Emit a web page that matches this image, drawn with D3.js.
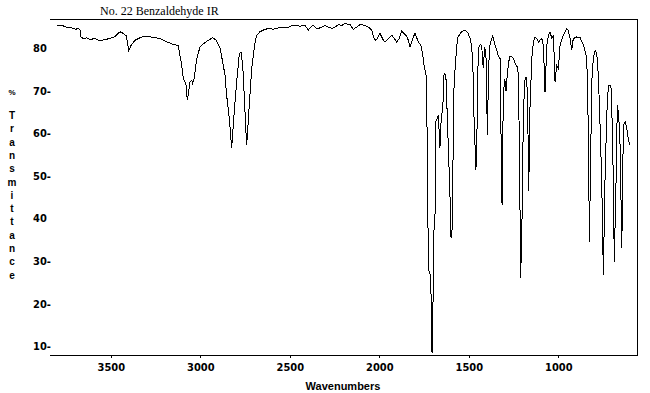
<!DOCTYPE html>
<html><head><meta charset="utf-8">
<script src="https://cdn.jsdelivr.net/npm/d3@7"></script>
<style>
html,body{margin:0;padding:0;background:#fff;}
svg{display:block;}
.num{font-family:"Liberation Sans Narrow","DejaVu Sans Condensed","Liberation Sans",sans-serif;font-weight:bold;font-size:11px;fill:#000;}
.lab{font-family:"Liberation Sans","DejaVu Sans",sans-serif;font-weight:bold;font-size:10px;fill:#000;}
</style></head>
<body>
<svg id="c" width="650" height="393"></svg>
<script>
const title = "No. 22 Benzaldehyde IR";
const xTitle = "Wavenumbers";
const yTitleLetters = ["T","r","a","n","s","m","i","t","t","a","n","c","e"];
const xTickValues = [3500, 3000, 2500, 2000, 1500, 1000];
const yTickValues = [80, 70, 60, 50, 40, 30, 20, 10];
const yTickLabels = ["80", "70-", "60-", "50-", "40", "30-", "20-", "10-"];

const wavenumbers = [
3803,3775,3747,3719,3695,3682,3672,3668,3654,3635,
3616,3589,3561,3533,3505,3477,3449,3430,3415,3408,
3400,3393,3386,3365,3337,3309,3281,3253,3225,3197,
3179,3151,3123,3114,3104,3095,3086,3080,3073,3065,
3058,3048,3043,3035,3020,3002,2983,2955,2931,2912,
2890,2875,2862,2853,2838,2825,2812,2797,2782,2773,
2763,2754,2745,2741,2713,2704,2694,2685,2667,2648,
2620,2592,2564,2536,2517,2489,2471,2443,2415,2405,
2397,2383,2369,2350,2331,2303,2285,2266,2247,2229,
2210,2192,2164,2145,2126,2108,2080,2061,2042,2033,
2024,2011,1996,1981,1968,1950,1931,1916,1903,1888,
1875,1862,1847,1838,1828,1810,1800,1782,1768,1757,
1750,1739,1734,1729,1722,1712,1708,1703,1698,1693,
1688,1685,1676,1670,1665,1661,1656,1651,1645,1638,
1628,1614,1605,1599,1594,1590,1582,1571,1563,1540,
1521,1503,1489,1478,1471,1460,1452,1447,1437,1428,
1419,1411,1404,1396,1389,1381,1366,1355,1344,1335,
1325,1320,1314,1307,1299,1292,1285,1277,1270,1260,
1251,1236,1228,1223,1217,1210,1202,1195,1187,1180,
1172,1165,1158,1152,1148,1139,1130,1120,1111,1102,
1092,1083,1074,1064,1055,1046,1036,1027,1018,1009,
999,990,972,953,944,934,925,916,897,878,
859,845,837,831,826,818,813,804,794,785,
776,767,757,748,739,729,720,711,705,700,
692,687,677,670,662,654,645,636,626,617,
608,599];

const transmittance = [
85.2,85.3,84.9,84.7,84.4,84.6,84.2,82.6,82.2,82.4,
82.0,82.2,81.7,82.0,82.2,82.7,83.8,83.4,82.9,81.6,
79.4,80.0,80.7,81.8,82.4,82.8,82.6,82.4,82.2,81.6,
81.3,80.8,80.6,78.3,75.9,72.8,72.0,71.3,67.7,69.7,
72.0,72.4,71.6,72.8,77.5,80.2,81.0,81.8,82.4,81.8,
79.9,76.7,73.6,68.9,63.4,56.5,64.2,72.0,78.7,79.1,
75.9,68.2,60.3,57.2,75.2,78.3,81.4,83.0,83.8,84.2,
84.6,84.4,84.7,84.9,84.7,85.2,85.3,85.1,85.3,84.7,
84.2,84.9,85.3,84.6,84.7,85.3,84.9,84.6,84.9,85.5,
85.3,85.7,85.5,84.4,84.9,85.5,85.3,84.9,84.2,82.8,
81.8,82.2,83.4,82.1,81.4,82.1,83.0,82.2,81.4,82.2,
84.0,83.4,82.8,81.8,80.2,82.6,83.4,81.4,80.6,78.3,
75.9,73.6,64.5,40.0,27.4,26.5,9.0,8.5,27.0,40.5,
41.0,62.6,63.5,64.2,60.0,56.5,62.0,64.2,66.0,74.0,
73.6,56.5,45.4,35.3,36.0,47.5,71.9,78.3,82.4,83.8,
84.2,83.4,81.8,77.6,64.2,51.3,64.2,79.9,80.8,80.6,
75.2,80.2,78.3,59.5,75.9,81.0,82.8,81.0,79.5,78.0,
77.5,60.3,43.1,68.9,72.8,69.8,73.6,76.7,78.1,78.0,
77.6,75.9,75.5,73.6,56.5,26.0,40.7,64.2,72.4,73.2,
69.7,46.5,65.9,72.6,77.5,81.4,82.6,82.2,81.4,81.8,
82.2,80.6,69.7,80.6,83.0,83.8,82.2,83.0,72.0,75.9,
75.2,80.6,83.0,84.6,84.2,82.2,79.5,82.2,82.6,82.4,
80.6,78.3,73.6,56.5,34.5,56.5,72.0,77.5,79.5,78.7,
73.6,62.7,48.6,26.7,48.6,64.2,71.3,71.3,70.5,64.2,
48.6,29.8,48.6,66.6,64.2,56.5,33.0,61.9,62.7,61.2,
58.5,57.2];

(function () {
const mLeft = 50, mRight = 637, mTop = 19, mBottom = 355;
const svg = d3.select("#c");

const x = d3.scaleLinear().domain([3840, 560]).range([mLeft, mRight]);
const y = d3.scaleLinear().domain([7.9, 86.8]).range([mBottom, mTop]);

const data = wavenumbers.map((w, i) => ({w, t: transmittance[i]}));

// frame: top, right, bottom
svg.append("path")
  .attr("d", `M${mLeft},${mTop + 0.5}H${mRight + 0.5}V${mBottom + 0.5}H${mLeft}`)
  .attr("fill", "none").attr("stroke", "#000").attr("stroke-width", 1)
  .attr("shape-rendering", "crispEdges");

// x axis
const xAxis = d3.axisBottom(x).tickValues(xTickValues).tickSize(2).tickPadding(6).tickFormat(d3.format("d"));
const gx = svg.append("g").attr("transform", `translate(0,${mBottom + 0.5})`).call(xAxis);
gx.select(".domain").remove();
gx.attr("font-family", null).attr("font-size", null);
gx.selectAll(".tick line").attr("stroke", "#000").attr("shape-rendering", "crispEdges");
gx.selectAll(".tick text").attr("class", "num");

// y axis (labels only)
const yAxis = d3.axisLeft(y).tickValues(yTickValues).tickSize(0)
  .tickFormat((d, i) => yTickLabels[i]);
const gy = svg.append("g").attr("transform", `translate(33,0)`).call(yAxis);
gy.select(".domain").remove();
gy.attr("font-family", null).attr("font-size", null);
gy.selectAll(".tick text").attr("class", "num")
  .attr("text-anchor", "start").attr("x", 0);

// spectrum
const line = d3.line().x(d => x(d.w)).y(d => y(d.t));
svg.append("path").datum(data)
  .attr("d", line)
  .attr("fill", "none").attr("stroke", "#000").attr("stroke-width", 1)
  .attr("shape-rendering", "crispEdges");

// title
svg.append("text").attr("x", 100).attr("y", 15)
  .attr("font-family", "'Liberation Serif','Times New Roman',serif").attr("font-size", 12)
  .text(title);

// x title
svg.append("text").attr("class", "lab").attr("x", 343).attr("y", 390)
  .attr("text-anchor", "middle").style("font-size", "11px").text(xTitle);

// y title
svg.append("text").attr("class", "lab").attr("x", 12).attr("y", 95)
  .attr("text-anchor", "middle").style("font-size", "8px").text("%");
svg.append("g").selectAll("text").data(yTitleLetters).join("text")
  .attr("class", "lab").attr("x", 12).attr("y", (d, i) => 119 + i * 13.3)
  .attr("text-anchor", "middle").text(d => d);
})();
</script>
</body></html>
